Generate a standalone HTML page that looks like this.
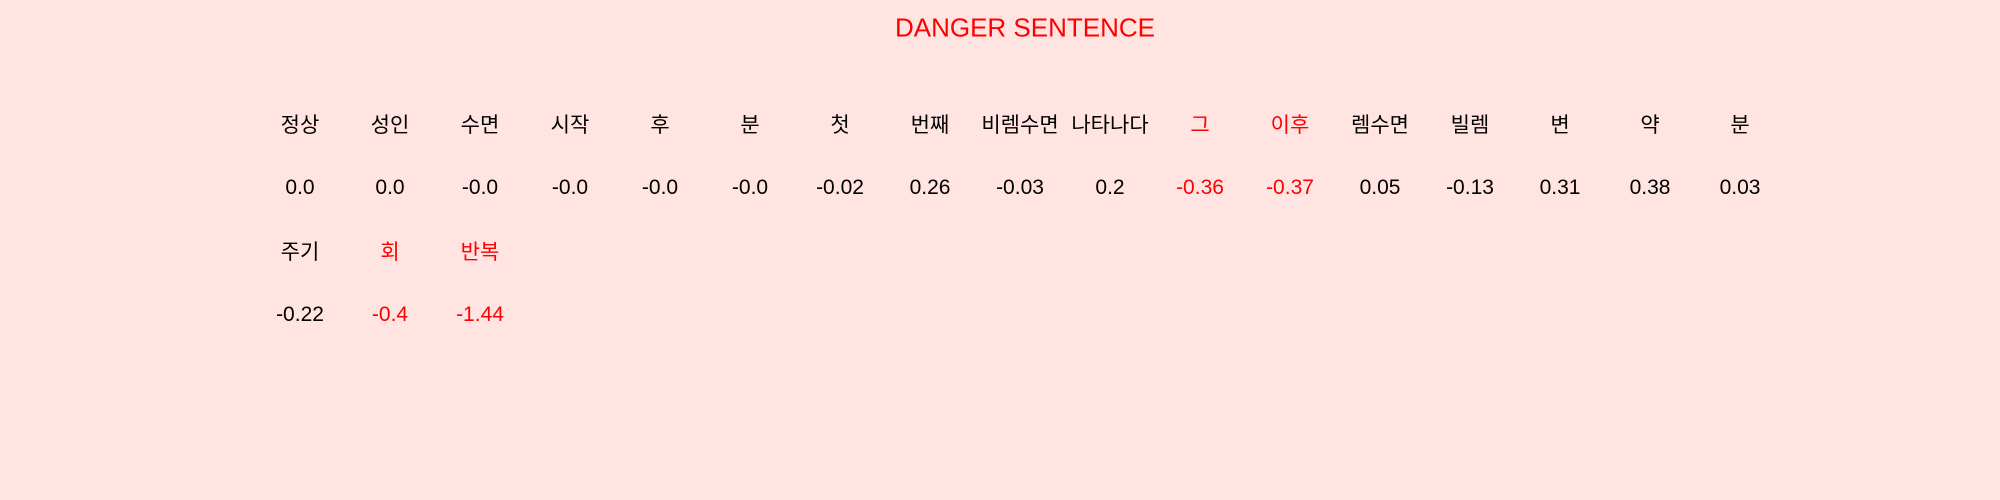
<!DOCTYPE html>
<html><head><meta charset="utf-8"><style>
html,body{margin:0;padding:0;}
body{width:2000px;height:500px;background:#ffe4e1;position:relative;overflow:hidden;font-family:"Liberation Sans","Noto Sans CJK KR",sans-serif;}
.t{position:absolute;transform:translate(-50%,-50%);white-space:nowrap;font-size:21px;color:#000;}
.r{color:#ff0000;}
#title{position:absolute;left:1025px;top:28px;transform:translate(-50%,-50%);font-size:26px;color:#ff0000;white-space:nowrap;}
</style></head><body>
<div id="title">DANGER SENTENCE</div>
<div id="grid"></div>
<script>
const words = ["정상","성인","수면","시작","후","분","첫","번째","비렘수면","나타나다","그","이후","렘수면","빌렘","변","약","분","주기","회","반복"];
const scores = ["0.0","0.0","-0.0","-0.0","-0.0","-0.0","-0.02","0.26","-0.03","0.2","-0.36","-0.37","0.05","-0.13","0.31","0.38","0.03","-0.22","-0.4","-1.44"];
const danger = [false,false,false,false,false,false,false,false,false,false,true,true,false,false,false,false,false,false,true,true];
const perRow = 17, x0 = 300, dx = 90.0, rowY = [124, 251], valOff = 64;
const grid = document.getElementById('grid');
words.forEach((w, i) => {
  const col = i % perRow, row = Math.floor(i / perRow);
  const x = x0 + col * dx;
  const a = document.createElement('div');
  a.className = 't' + (danger[i] ? ' r' : '');
  a.style.left = x + 'px'; a.style.top = rowY[row] + 'px';
  a.textContent = w;
  
  
  grid.appendChild(a);
  const b = document.createElement('div');
  b.className = 't' + (danger[i] ? ' r' : '');
  b.style.left = x + 'px'; b.style.top = (rowY[row] + valOff) + 'px';
  b.textContent = scores[i];
  
  
  grid.appendChild(b);
});
</script>
</body></html>
